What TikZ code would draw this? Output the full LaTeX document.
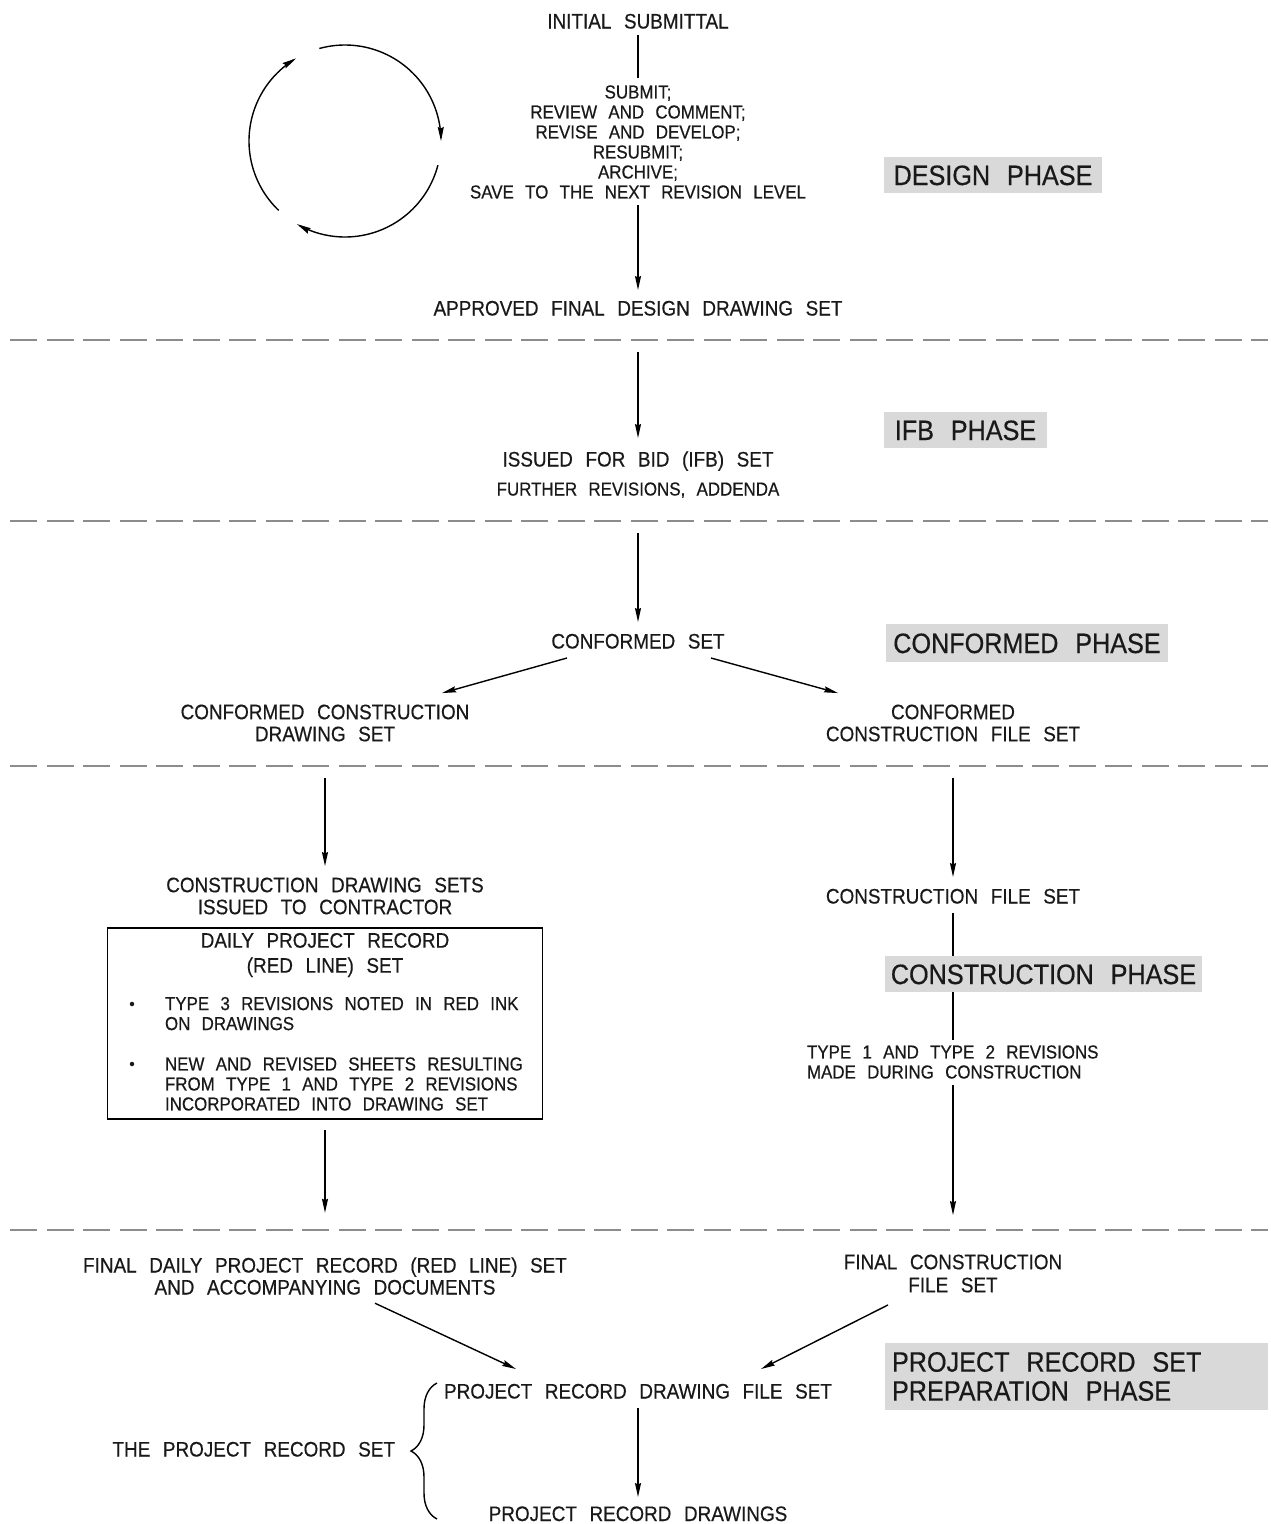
\documentclass[tikz,border=0pt]{standalone}
\usepackage{fontspec}
\setmainfont{Liberation Sans}[FakeStretch=0.9, WordSpace=2.4, FakeBold=0.5]
\usetikzlibrary{arrows.meta,decorations.pathreplacing,calc}
\begin{document}
\begin{tikzpicture}[x=1pt,y=-1pt,
  every node/.style={inner sep=0pt, outer sep=0pt, text=black!90},
  lbl/.style={font=\fontsize{21}{22}\selectfont, align=center},
  one/.style={font=\fontsize{21}{22}\selectfont, text height=15pt, text depth=0pt, anchor=base},
  onesm/.style={font=\fontsize{18.8}{20}\selectfont, text height=13pt, text depth=0pt, anchor=base},
  sm/.style={font=\fontsize{18.8}{20}\selectfont, align=center},
  smL/.style={font=\fontsize{18.8}{20}\selectfont, align=left, anchor=west},
  phasefont/.style={font=\fontsize{28}{29}\selectfont},
  phase/.style={fill=black!15, phasefont, text height=20pt, text depth=0pt},
  ln/.style={line width=1.4pt},
  arr/.style={ln, -{Stealth[length=14pt,width=6pt,inset=1.5pt]}},
  sepline/.style={line width=2pt, black!45, dash pattern=on 27pt off 9.5pt},
  bul/.style={circle, fill=black!90, minimum size=4.5pt}
]
\useasboundingbox (0,0) rectangle (1270,1524);

% separators
\draw[sepline] (10,340) -- (1268,340);
\draw[sepline] (10,521) -- (1268,521);
\draw[sepline] (10,766) -- (1268,766);
\draw[sepline] (10,1230) -- (1268,1230);

% cycle
\draw[arr] plot[domain=0:105.5, samples=60] ({345+96*cos(105.5-\x)},{141-96*sin(105.5-\x)});
\draw[arr] plot[domain=0:105.4, samples=60] ({345+96*cos(-14.6-\x)},{141-96*sin(-14.6-\x)});
\draw[arr] plot[domain=0:105.7, samples=60] ({345+96*cos(-133.7-\x)},{141-96*sin(-133.7-\x)});

% nodes
\node[one] (init) at (638,28.5) {INITIAL SUBMITTAL};
\node[sm] (cyc) at (638,142) {SUBMIT;\\REVIEW AND COMMENT;\\REVISE AND DEVELOP;\\RESUBMIT;\\ARCHIVE;\\SAVE TO THE NEXT REVISION LEVEL};
\node[one] (appr) at (638,315.5) {APPROVED FINAL DESIGN DRAWING SET};
\node[one] (ifb) at (638,466.5) {ISSUED FOR BID (IFB) SET};
\node[onesm] (further) at (638,495.5) {FURTHER REVISIONS, ADDENDA};
\node[one] (cset) at (638,648.5) {CONFORMED SET};
\node[lbl] (ccd) at (325,723) {CONFORMED CONSTRUCTION\\DRAWING SET};
\node[lbl] (ccf) at (953,723) {CONFORMED\\CONSTRUCTION FILE SET};
\node[lbl] (cds) at (325,896) {CONSTRUCTION DRAWING SETS\\ISSUED TO CONTRACTOR};
\node[draw, ln, minimum width=435pt, minimum height=191pt] (dpr) at (325,1023.5) {};
\node[lbl, font=\fontsize{21}{25}\selectfont] (dprt) at (325,955) {DAILY PROJECT RECORD\\(RED LINE) SET};
\node[bul] (d1) at (132,1004) {};
\node[smL] (b1) at (165,1013.6) {TYPE 3 REVISIONS NOTED IN RED INK\\ON DRAWINGS};
\node[bul] (d2) at (132,1064) {};
\node[smL] (b2) at (165,1084) {NEW AND REVISED SHEETS RESULTING\\FROM TYPE 1 AND TYPE 2 REVISIONS\\INCORPORATED INTO DRAWING SET};
\node[one] (cfs) at (953,903.5) {CONSTRUCTION FILE SET};
\node[smL] (t12) at (807,1062) {TYPE 1 AND TYPE 2 REVISIONS\\MADE DURING CONSTRUCTION};
\node[lbl] (fdpr) at (325,1276) {FINAL DAILY PROJECT RECORD (RED LINE) SET\\AND ACCOMPANYING DOCUMENTS};
\node[lbl, font=\fontsize{21}{23}\selectfont] (fcfs) at (953,1273.5) {FINAL CONSTRUCTION\\FILE SET};
\node[one] (prdfs) at (638,1398.5) {PROJECT RECORD DRAWING FILE SET};
\node[one] (prd) at (638,1521) {PROJECT RECORD DRAWINGS};
\node[one, anchor=base east] (tprs) at (395,1456.5) {THE PROJECT RECORD SET};

% phase labels
\node[phase, minimum width=218pt, minimum height=36pt] (dph) at (993,175) {DESIGN PHASE};
\node[phase, minimum width=163pt, minimum height=36pt] (ifbph) at (965.5,430) {IFB PHASE};
\node[phase, minimum width=282pt, minimum height=38pt] (confph) at (1027,643) {CONFORMED PHASE};
\node[phase, minimum width=317pt, minimum height=36pt] (consph) at (1043.5,974) {CONSTRUCTION PHASE};
\node[fill=black!15, minimum width=383pt, minimum height=67pt] (prph) at (1076.5,1376.5) {};
\node[phasefont, align=left, anchor=west] (prphtext) at (892,1376.5) {PROJECT RECORD SET\\PREPARATION PHASE};

% connectors
\draw[ln, shorten <=6.5pt, shorten >=7.5pt] (init.south) -- (cyc.north);
\draw[arr, shorten <=6.5pt, shorten >=10.5pt] (cyc.south) -- (appr.north);
\draw[arr, shorten <=36.5pt, shorten >=13.5pt] (appr.south) -- (ifb.north);
\draw[arr, shorten <=37.5pt, shorten >=11.5pt] (further.south) -- (cset.north);
\draw[arr] ([shift={(-71,9.5)}]cset.base) -- ([shift={(117,-11.5)}]ccd.north);
\draw[arr] ([shift={(73,9.5)}]cset.base) -- ([shift={(-115,-11.5)}]ccf.north);
\draw[arr, shorten <=36.5pt, shorten >=11.5pt] (ccd.south) -- (cds.north);
\draw[arr, shorten <=36.5pt, shorten >=11.5pt] (ccf.south) -- (cfs.north);
\draw[ln, shorten <=9.5pt] (cfs.south) -- (cfs.south |- consph.north);
\draw[ln, shorten >=5.5pt] (cfs.south |- consph.south) -- (cfs.south |- t12.north);
\draw[arr, shorten <=6.5pt, shorten >=39.5pt] (fcfs.north |- t12.south) -- (fcfs.north);
\draw[arr, shorten <=11pt, shorten >=44.5pt] (dpr.south) -- (fdpr.north);
\draw[arr] ([shift={(50,8.5)}]fdpr.south) -- ([shift={(-122,-14.5)}]prdfs.north);
\draw[arr] ([shift={(-65,12.5)}]fcfs.south) -- ([shift={(123,-14.5)}]prdfs.north);
\draw[arr, shorten <=9.5pt, shorten >=9pt] (prdfs.south) -- (prd.north);

% brace
\draw[ln, decorate, decoration={brace, amplitude=26pt}] (437,1519) -- (437,1383);
\end{tikzpicture}
\end{document}
